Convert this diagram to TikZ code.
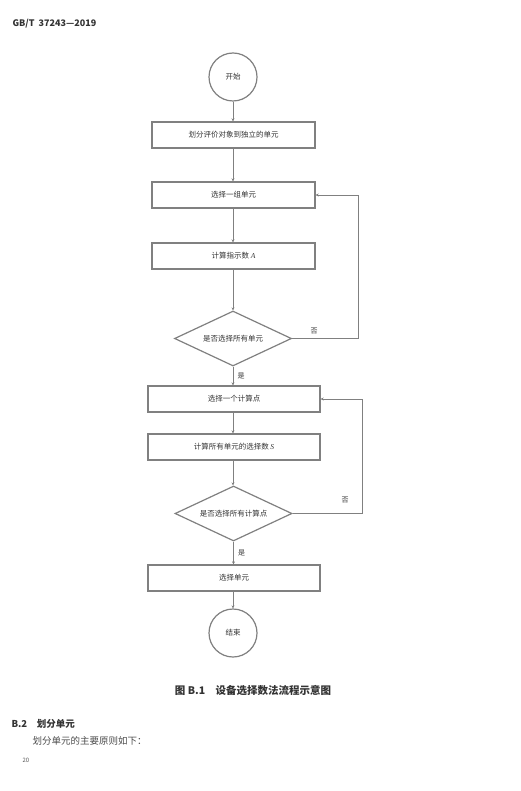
\documentclass[tikz,border=0pt]{standalone}
\usepackage{fontspec}
\setmainfont{Liberation Serif}
\newfontfamily\cjk{Noto Sans CJK SC}
\newcommand{\latvar}[1]{{\rmfamily\itshape #1}}
\usetikzlibrary{shapes.geometric,arrows.meta}
\begin{document}
\begin{tikzpicture}[x=1pt,y=-1pt,
  every node/.style={font=\cjk\fontsize{7.5}{8}\selectfont, text=black!80},
  procbox/.style={draw=black!50, line width=1.3pt, minimum height=26pt, inner sep=0pt},
  termc/.style={draw=black!50, line width=1.2pt, circle, minimum size=48pt, inner sep=0pt},
  decis/.style={draw=black!50, line width=1.2pt, diamond, minimum width=117pt, minimum height=55pt, inner sep=0pt},
  conn/.style={draw=black!50, line width=0.6pt, -{Stealth[length=3pt,width=3pt]}},
  lbl/.style={font=\cjk\fontsize{7}{8}\selectfont}]
\useasboundingbox (0,0) rectangle (520,791);
\fill[white] (0,0) rectangle (520,791);
\node[anchor=west, font=\cjk\bfseries\fontsize{9}{10}\selectfont, text=black!80] (hdr) at (9,24) {GB/T\ \ 37243—2019};

\node[termc] (start) at (233,77) {开始};
\node[procbox, minimum width=163pt] (b1) at (233.5,135) {划分评价对象到独立的单元};
\node[procbox, minimum width=163pt] (b2) at (233.5,195) {选择一组单元};
\node[procbox, minimum width=163pt] (b3) at (233.5,256) {计算指示数 \latvar{A}};
\node[decis, label=center:{是否选择所有单元}] (d1) at (233,338.5) {};
\node[procbox, minimum width=172pt] (b4) at (234,399) {选择一个计算点};
\node[procbox, minimum width=172pt] (b5) at (234,447) {计算所有单元的选择数 \latvar{S}};
\node[decis, label=center:{是否选择所有计算点}] (d2) at (233.5,513.5) {};
\node[procbox, minimum width=172pt] (b6) at (234,578) {选择单元};
\node[termc] (stop) at (233,633) {结束};

\draw[conn] (start) -- (start|-b1.north);
\draw[conn] (b1.south-|start) -- (start|-b2.north);
\draw[conn] (b2.south-|start) -- (start|-b3.north);
\draw[conn] (b3.south-|start) -- (d1.north);
\draw[conn] (d1.south) -- (d1.south|-b4.north) node[lbl, pos=0.5, right=1pt] {是};
\draw[conn] (b4.south-|d1) -- (d1|-b5.north);
\draw[conn] (b5.south-|d1) -- (d1|-d2.north);
\draw[conn] (d2.south) -- (d2.south|-b6.north) node[lbl, pos=0.5, right=1pt] {是};
\draw[conn] (b6.south-|d1) -- (stop.north);

\coordinate (r1) at (358,338.5);
\coordinate (r1t) at (358,195);
\draw[conn] (d1.east) -- (r1) -- (r1t) -- (b2.east);
\node[lbl] (no1) at (314,331) {否};
\coordinate (r2) at (362,513.5);
\coordinate (r2t) at (362,399);
\draw[conn] (d2.east) -- (r2) -- (r2t) -- (b4.east);
\node[lbl] (no2) at (345,500) {否};

\node[font=\cjk\bfseries\fontsize{10.5}{11}\selectfont, text=black!80] (cap) at (253,691) {图 B.1\quad 设备选择数法流程示意图};
\node[anchor=west, font=\cjk\bfseries\fontsize{9.5}{10}\selectfont, text=black!80] (sec) at (8,724) {B.2\quad 划分单元};
\node[anchor=west, font=\cjk\fontsize{9.5}{10}\selectfont, text=black!70] (para) at (29,741) {划分单元的主要原则如下：};
\node[anchor=west, font=\cjk\fontsize{6}{6}\selectfont, text=black!65] (pg) at (19,760) {20};
\end{tikzpicture}
\end{document}
